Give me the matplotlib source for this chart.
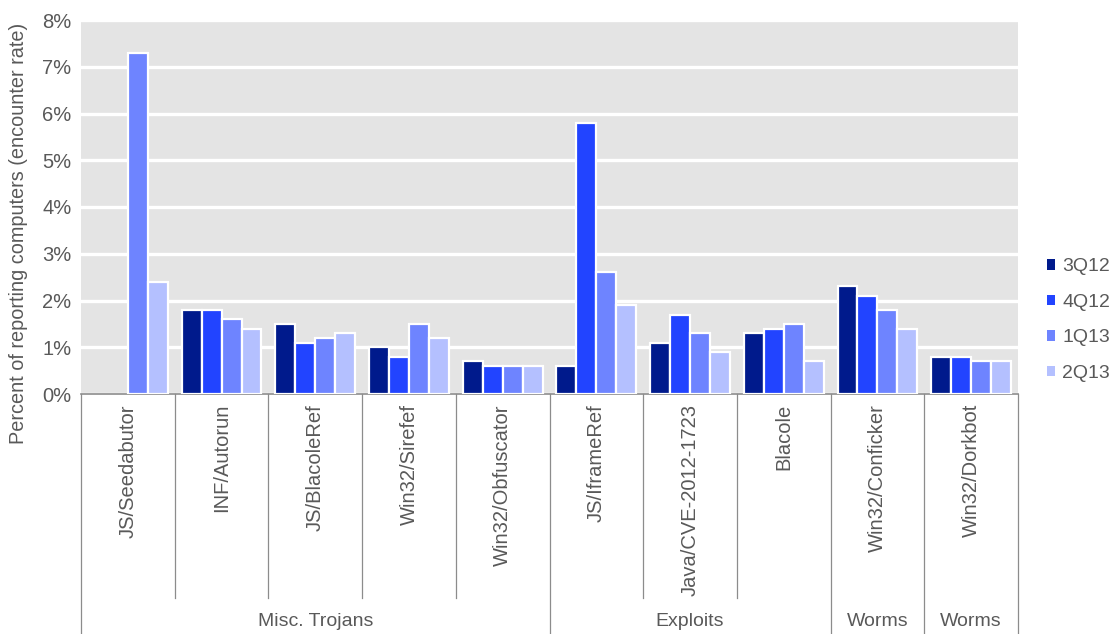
import matplotlib.pyplot as plt
import numpy as np
from matplotlib.transforms import blended_transform_factory

plt.rcParams['font.family'] = ['Liberation Sans', 'DejaVu Sans']

categories = ['JS/Seedabutor', 'INF/Autorun', 'JS/BlacoleRef', 'Win32/Sirefef',
              'Win32/Obfuscator', 'JS/IframeRef', 'Java/CVE-2012-1723', 'Blacole',
              'Win32/Conficker', 'Win32/Dorkbot']
quarters = ['3Q12', '4Q12', '1Q13', '2Q13']
q3_12 = [0.0, 1.8, 1.5, 1.0, 0.7, 0.6, 1.1, 1.3, 2.3, 0.8]
q4_12 = [0.0, 1.8, 1.1, 0.8, 0.6, 5.8, 1.7, 1.4, 2.1, 0.8]
q1_13 = [7.3, 1.6, 1.2, 1.5, 0.6, 2.6, 1.3, 1.5, 1.8, 0.7]
q2_13 = [2.4, 1.4, 1.3, 1.2, 0.6, 1.9, 0.9, 0.7, 1.4, 0.7]
groups = [('Misc. Trojans', 0, 5), ('Exploits', 5, 8), ('Worms', 8, 9), ('Worms', 9, 10)]

colors = ['#001a8c', '#2244ff', '#6e84ff', '#b4c0ff']
grey_text = '#595959'
line_grey = '#8c8c8c'

fig = plt.figure(figsize=(11.17, 6.34), dpi=100)
ax = fig.add_axes([81 / 1117, 1 - 394 / 634, (1018 - 81) / 1117, (394 - 20) / 634])
ax.set_facecolor('#e4e4e4')

x = np.arange(len(categories))
slot = 0.213
series = [q3_12, q4_12, q1_13, q2_13]
for i, (vals, c, lab) in enumerate(zip(series, colors, quarters)):
    v = np.array(vals)
    ax.bar(x + (i - 1.5) * slot, np.where(v > 0, v, np.nan), width=slot,
           color=c, edgecolor='white', linewidth=1.6, label=lab, zorder=3)

ax.set_xlim(-0.5, len(categories) - 0.5)
ax.set_ylim(0, 8)
ax.set_yticks(range(9))
ax.set_yticklabels(['%d%%' % t for t in range(9)], fontsize=14.5, color=grey_text)
ax.tick_params(axis='y', length=0, pad=7)
ax.set_xticks([])
ax.grid(axis='y', color='white', linewidth=2.4, zorder=1)
ax.set_axisbelow(True)
for s in ['top', 'right', 'left']:
    ax.spines[s].set_visible(False)
ax.spines['bottom'].set_color(line_grey)
ax.spines['bottom'].set_linewidth(1.2)
ax.set_ylabel('Percent of reporting computers (encounter rate)', fontsize=14.3,
              color=grey_text)
ax.yaxis.set_label_coords(-(81 - 28) / 937, (394 - 233) / 374)

tr = blended_transform_factory(ax.transData, ax.transAxes)
inner_bottom = (394 - 598) / (394 - 20)
fig_bottom = (394 - 634) / (394 - 20)
group_edges = {g[1] for g in groups} | {len(categories)}
for k in range(len(categories) + 1):
    y0 = fig_bottom if k in group_edges else inner_bottom
    ax.plot([k - 0.5, k - 0.5], [0, y0], color=line_grey, linewidth=0.9,
            transform=tr, clip_on=False)

for k, name in enumerate(categories):
    ax.text(k, -0.027, name, rotation=90, ha='center', va='top', fontsize=14.5,
            color=grey_text, transform=tr)

for name, a, b in groups:
    ax.text((a + b - 1) / 2, (394 - 622) / (394 - 20), name, ha='center', va='center',
            fontsize=14, color=grey_text, transform=tr)

leg = ax.legend(loc='center left', bbox_to_anchor=(1.012, (394 - 320) / 374), frameon=False,
                fontsize=14, handlelength=0.45, handleheight=0.45, handletextpad=0.35,
                labelspacing=0.95, labelcolor=grey_text)
for h in leg.legend_handles:
    h.set_linewidth(0)

fig.savefig('out.png', dpi=100)
